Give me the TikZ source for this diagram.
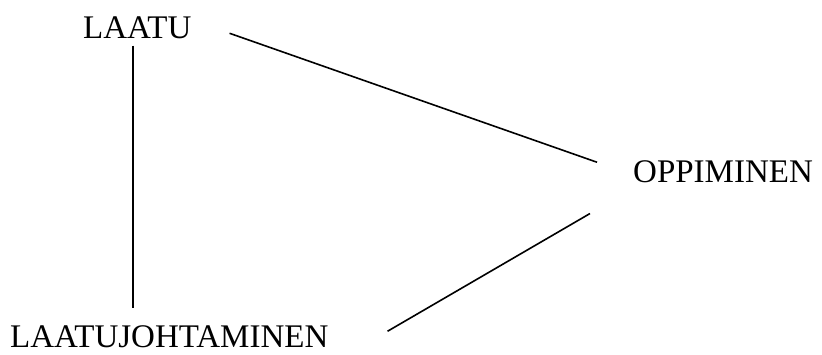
\documentclass[tikz,border=0pt]{standalone}
\usepackage{fontspec}
\setmainfont{Liberation Serif}
\begin{document}
\begin{tikzpicture}[x=1pt, y=-1pt,
    term/.style={inner sep=0pt, anchor=base west, font=\fontsize{33}{40}\selectfont},
    link/.style={line width=1.6pt}]
    % Frame
    \useasboundingbox (0,0) rectangle (822,354);
    
    % Terms
    \node[term] (laatu) at (83,38) {LAATU};
    \node[term] (oppi) at (633,182) {OPPIMINEN};
    \node[term] (johto) at (10,347) {LAATUJOHTAMINEN};
    
    % Links between the terms
    \draw[link] ([shift={(-4,7)}]laatu.south) -- ([shift={(-4,-17)}]laatu.south |- johto.north);
    \draw[link] ([shift={(38,6)}]laatu.east) -- ([shift={(-36,-9)}]oppi.west);
    \draw[link] ([shift={(-43,31)}]oppi.south west) -- ([shift={(59,-5)}]johto.east);
    
\end{tikzpicture}
\end{document}
